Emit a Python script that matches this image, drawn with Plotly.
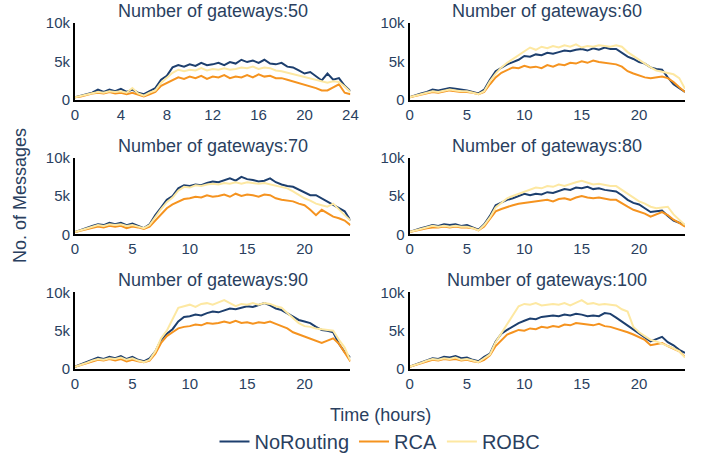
import plotly.graph_objects as go
from plotly.subplots import make_subplots

hours = [i * 0.5 for i in range(49)]
gateways = [50, 60, 70, 80, 90, 100]
series_names = ["NoRouting", "RCA", "ROBC"]
colors = {"NoRouting": "#1d3f6e", "RCA": "#f5931f", "ROBC": "#fde8a2"}

norouting_50 = [300,500,700,900,1300,1000,1300,1100,1400,1000,1300,900,700,
                1100,1500,2600,3100,4200,4500,4300,4600,4400,4800,4500,4600,
                4800,4500,4900,4700,5200,4900,5100,4800,5200,4700,4600,4800,
                4300,4200,3800,3400,3600,3000,2500,3400,2600,2800,1800,1100]
rca_50 = [300,400,600,800,900,800,1000,800,900,700,900,600,400,
          700,1000,1800,2200,2600,2900,2700,3000,2800,3100,2700,3000,
          2900,3200,2800,3000,2900,3200,2900,3300,3000,3100,2800,2800,
          2600,2400,2100,1900,1700,1500,1200,1200,1600,2000,900,700]
robc_50 = [300,500,700,900,1000,900,1100,1000,1100,900,1500,800,500,
           900,1200,2200,2800,3500,3900,3700,3900,3800,4100,3800,4000,
           3900,4100,3900,4000,4200,4100,4300,4000,4200,4100,3800,3700,
           3500,3300,3100,2900,2800,2600,2300,2200,2400,2300,1700,1000]

norouting_60 = [300,600,800,1000,1300,1200,1400,1500,1400,1300,1200,1000,800,
                1300,2600,3700,4200,4600,4900,5200,5700,5600,5900,5800,6100,
                6000,6200,6400,6300,6500,6600,6400,6700,6500,6800,6600,6600,
                6100,5600,5300,4900,4700,4200,4000,3900,2900,2000,1500,1000]
rca_60 = [300,500,700,800,1000,900,1100,1200,1100,1000,1000,900,700,
          1000,2000,2900,3500,3800,4200,4100,4400,4200,4300,4100,4500,
          4300,4600,4500,4800,4700,5000,4800,5100,4900,4800,4700,4600,
          4300,3700,3400,3100,2900,2800,2900,3000,2800,2300,1600,1000]
robc_60 = [300,500,700,900,1100,1000,1200,1300,1200,1100,1100,900,700,
           1100,2400,3400,4200,4800,5300,5900,6400,6800,6500,6900,6700,
           7000,6800,7100,6900,7200,6800,7000,6900,7100,7000,6900,7100,
           6900,6200,5700,5100,4600,4200,3800,3600,3400,3300,2800,1400]

norouting_70 = [300,600,900,1100,1300,1200,1500,1300,1500,1200,1400,1100,800,
                1300,2500,3500,4500,5000,6000,6400,6300,6500,6400,6700,6900,
                6800,7000,7300,7000,7500,7200,7100,6900,7000,7300,6800,6500,
                6300,6200,5800,5400,5100,5100,4700,4300,3800,3500,3000,1800]
rca_70 = [300,500,700,900,1000,900,1100,1000,1100,800,1000,900,700,
          1000,1800,2700,3400,3900,4300,4600,4700,4900,4800,5100,4900,
          5000,5200,4900,5300,5000,5200,5100,4900,5200,5100,4700,4500,
          4400,4300,4000,3800,3200,2500,3200,2800,2300,2100,1800,1200]
robc_70 = [300,500,800,1000,1200,1100,1300,1200,1300,1100,1200,1000,800,
           1200,2300,3300,4200,4800,5700,6200,6100,6400,6300,6500,6600,
           6500,6700,6600,6800,6600,6800,6700,6600,6700,6500,6400,6200,
           6000,5600,5100,4700,4400,4000,3800,3600,4000,3200,2500,1800]

norouting_80 = [300,600,800,1000,1200,1100,1300,1200,1300,1100,1200,900,600,
                1300,2400,3800,4200,4500,4700,5000,5300,5100,5300,5200,5500,
                5400,5700,5900,5800,6100,6000,6200,5900,6000,5800,5700,5600,
                5100,4500,4100,3900,3400,2900,3000,3100,2400,1800,1500,1200]
rca_80 = [300,500,700,800,900,900,1000,900,1000,900,900,800,500,
          1000,2000,3000,3300,3600,3800,4000,4100,4200,4300,4400,4500,
          4300,4600,4700,4500,4800,5000,4800,4700,4800,4600,4500,4500,
          4000,3600,3200,3000,2700,2300,2600,2900,2500,1900,1500,1000]
robc_80 = [300,500,700,900,1100,1000,1100,1000,1100,1000,1000,800,500,
           1200,2200,3500,4100,4700,5000,5300,5600,5800,6100,6000,6300,
           6200,6500,6300,6600,6800,7000,6700,6500,6600,6400,6300,6300,
           5800,5200,4700,4300,4000,3600,3400,3500,3600,2600,1900,1200]

norouting_90 = [300,600,900,1200,1500,1300,1600,1400,1700,1300,1600,1200,1000,
                1400,2300,3800,4600,5200,6200,6800,6900,7100,7000,7300,7500,
                7400,7700,7900,7800,8000,8200,8100,8400,8600,8300,7900,7700,
                7300,6900,6400,6200,6000,5500,5100,5000,4800,3300,2200,1500]
rca_90 = [300,500,800,1000,1200,1100,1300,1100,1300,1000,1200,1000,900,
          1100,2000,3400,4300,4800,5300,5500,5600,5800,5700,6000,5900,
          6000,6200,6000,6300,6000,6100,5900,6100,6000,6200,5900,5600,
          5300,4800,4500,4300,4000,3700,3400,3700,4000,3300,2200,1000]
robc_90 = [300,500,800,1100,1300,1200,1400,1300,1500,1200,1400,1100,900,
           1200,2300,4000,5000,6500,8000,8200,8400,8100,8500,8600,8400,
           8700,9000,8600,8200,8500,8400,8600,8400,8600,8500,8200,8000,
           7300,6600,6000,5600,5500,5300,5200,5100,5000,3800,2800,1100]

norouting_100 = [300,600,900,1200,1400,1300,1600,1500,1700,1400,1500,1200,1000,
                 1600,2000,3600,4600,5100,5600,6000,6300,6600,6500,6800,6900,
                 7000,6900,7100,7000,7200,7100,6900,7000,6900,7300,7200,6700,
                 6200,5700,5100,4600,4200,3600,3900,4200,3500,3100,2500,2100]
rca_100 = [300,500,700,1000,1200,1100,1300,1200,1300,1100,1200,1000,900,
           1200,1800,3000,3800,4500,4800,5100,5000,5300,5200,5500,5400,
           5600,5500,5800,5700,6000,5900,5800,5700,5900,5600,5500,5300,
           5100,4800,4500,4100,3800,3100,3300,3400,3000,2700,2300,1600]
robc_100 = [300,500,800,1100,1300,1200,1400,1300,1500,1200,1300,1100,900,
            1400,1900,3500,4700,5800,7000,8200,8500,8400,8600,8300,8400,
            8500,8400,8600,8300,8700,9000,8500,8600,8400,8500,8400,8300,
            7800,7500,5500,4800,4300,3800,3600,3300,3100,2700,2300,1500]

data = {
    50: [norouting_50, rca_50, robc_50],
    60: [norouting_60, rca_60, robc_60],
    70: [norouting_70, rca_70, robc_70],
    80: [norouting_80, rca_80, robc_80],
    90: [norouting_90, rca_90, robc_90],
    100: [norouting_100, rca_100, robc_100],
}

font_family = "Liberation Sans, Arial, sans-serif"
text_color = "#2a3f5f"

fig = make_subplots(
    rows=3, cols=2,
    horizontal_spacing=0.097, vertical_spacing=0.168,
    subplot_titles=[f"Number of gateways:{g}" for g in gateways],
)

for idx, g in enumerate(gateways):
    r = idx // 2 + 1
    c = idx % 2 + 1
    for s_i, name in enumerate(series_names):
        fig.add_trace(
            go.Scatter(
                x=hours, y=data[g][s_i], mode="lines", name=name,
                line=dict(color=colors[name], width=2),
                legendgroup=name, showlegend=(idx == 0),
            ),
            row=r, col=c,
        )
    fig.update_xaxes(
        range=[0, 24], dtick=4 if g == 50 else 5, tick0=0,
        showgrid=False, zeroline=False, showline=True,
        linecolor="black", linewidth=2, ticks="",
        tickfont=dict(size=15, color=text_color, family=font_family),
        row=r, col=c,
    )
    fig.update_yaxes(
        range=[0, 10000], tickvals=[0, 5000, 10000], ticktext=["0", "5k", "10k"],
        showgrid=False, zeroline=False, showline=True,
        linecolor="black", linewidth=2, ticks="",
        tickfont=dict(size=15, color=text_color, family=font_family),
        row=r, col=c,
    )

for ann in fig.layout.annotations:
    ann.font = dict(size=18, color=text_color, family=font_family)

fig.add_annotation(
    text="Time (hours)", xref="paper", yref="paper", x=0.5, y=-0.133,
    xanchor="center", yanchor="middle", showarrow=False,
    font=dict(size=18, color=text_color, family=font_family),
)
fig.add_annotation(
    text="No. of Messages", xref="paper", yref="paper", x=-0.09, y=0.5,
    xanchor="center", yanchor="middle", textangle=-90, showarrow=False,
    font=dict(size=18, color=text_color, family=font_family),
)

fig.update_layout(
    width=701, height=457,
    margin=dict(l=75, r=16, t=23, b=88, autoexpand=False),
    plot_bgcolor="white", paper_bgcolor="white",
    font=dict(family=font_family, color=text_color),
    legend=dict(
        orientation="h", x=0.5, xanchor="center",
        yref="container", y=0.034, yanchor="middle",
        font=dict(size=20, color=text_color, family=font_family),
    ),
)

fig.write_html(
    "out.html",
    config={"displayModeBar": False},
    post_script="document.body.style.margin='0px';",
)
